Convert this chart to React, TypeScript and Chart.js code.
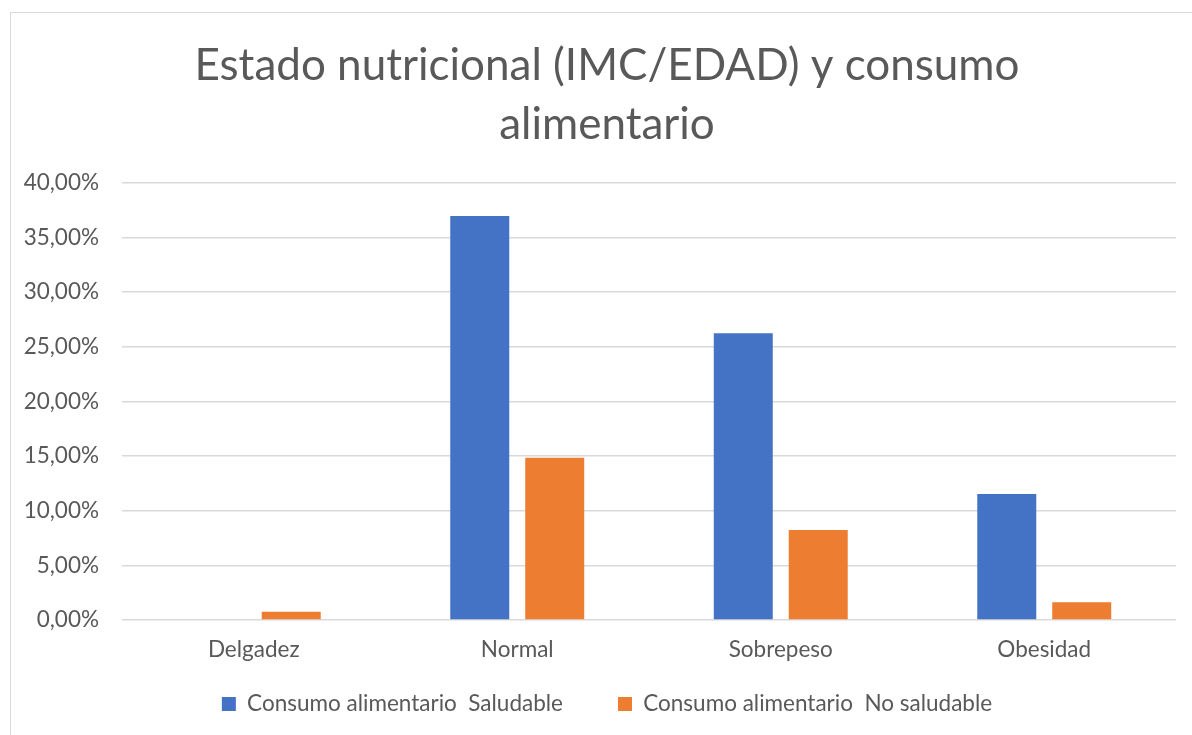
import React, { useEffect, useRef } from "react";
import { Chart, registerables } from "chart.js";

Chart.register(...registerables);

const categories = ["Delgadez", "Normal", "Sobrepeso", "Obesidad"];
const saludable = [0, 36.97, 26.24, 11.52];
const noSaludable = [0.76, 14.85, 8.24, 1.62];
const seriesLabels = ["Consumo alimentario  Saludable", "Consumo alimentario  No saludable"];
const seriesColors = ["#4472C4", "#ED7D31"];
const titleLines = ["Estado nutricional (IMC/EDAD) y consumo", "alimentario"];
const yMin = 0;
const yMax = 40;
const yStep = 5;

const FONT = "Lato, 'Open Sans', sans-serif";
const TEXT = "#595959";

export default function App() {
  const ref = useRef<HTMLCanvasElement>(null);

  useEffect(() => {
    if (!ref.current) return;
    const chart = new Chart(ref.current, {
      type: "bar",
      data: {
        labels: categories,
        datasets: [
          {
            label: seriesLabels[0],
            data: saludable,
            backgroundColor: seriesColors[0],
            categoryPercentage: 0.569,
            barPercentage: 0.787,
            yAxisID: "y",
          },
          {
            label: seriesLabels[1],
            data: noSaludable,
            backgroundColor: seriesColors[1],
            categoryPercentage: 0.569,
            barPercentage: 0.787,
            yAxisID: "y",
          },
        ],
      },
      options: {
        responsive: false,
        maintainAspectRatio: false,
        animation: false,
        devicePixelRatio: 1,
        layout: { padding: { left: 0, right: 0, top: 0, bottom: 9.75 } },
        plugins: {
          title: {
            display: true,
            text: titleLines,
            color: TEXT,
            font: { family: FONT, size: 44, weight: "normal", lineHeight: 1.35 },
            padding: { top: 23, bottom: 28 },
          },
          legend: {
            display: true,
            position: "bottom",
            labels: {
              color: TEXT,
              font: { family: FONT, size: 22.5 },
              boxWidth: 14,
              boxHeight: 14,
              padding: 55,
            },
          },
          tooltip: { enabled: false },
        },
        scales: {
          x: {
            grid: { display: false, drawTicks: false },
            border: { display: false },
            ticks: {
              color: TEXT,
              font: { family: FONT, size: 22.5 },
              mirror: true,
              padding: -43.5,
              maxRotation: 0,
            },
            afterFit: (scale: any) => {
              scale.height = 17.75;
            },
          },
          y: {
            position: "left",
            min: yMin,
            max: yMax,
            grid: { color: "#D9D9D9", lineWidth: 1.5, drawTicks: false },
            border: { display: false },
            ticks: {
              stepSize: yStep,
              color: TEXT,
              font: { family: FONT, size: 22.5 },
              padding: 23,
              callback: (v: any) => Number(v).toFixed(2).replace(".", ",") + "%",
            },
            afterFit: (scale: any) => {
              scale.width = 111;
            },
          },
          yRight: {
            type: "linear",
            position: "right",
            display: true,
            grid: { display: false, drawTicks: false },
            border: { display: false },
            ticks: { display: false },
            afterFit: (scale: any) => {
              scale.width = 27;
            },
          },
        },
      },
    });
    return () => chart.destroy();
  }, []);

  return (
    <div
      style={{
        position: "fixed",
        left: 0,
        top: 0,
        width: 1192,
        height: 735,
        overflow: "hidden",
        background: "#ffffff",
      }}
    >
      <div
        style={{
          position: "absolute",
          left: 10,
          top: 12,
          width: 1210,
          height: 760,
          border: "1px solid #D9D9D9",
          boxSizing: "border-box",
          background: "#ffffff",
        }}
      >
        <canvas
          ref={ref}
          width={1192}
          height={722}
          style={{ position: "absolute", left: 0, top: 0, width: 1192, height: 722 }}
        />
      </div>
    </div>
  );
}
